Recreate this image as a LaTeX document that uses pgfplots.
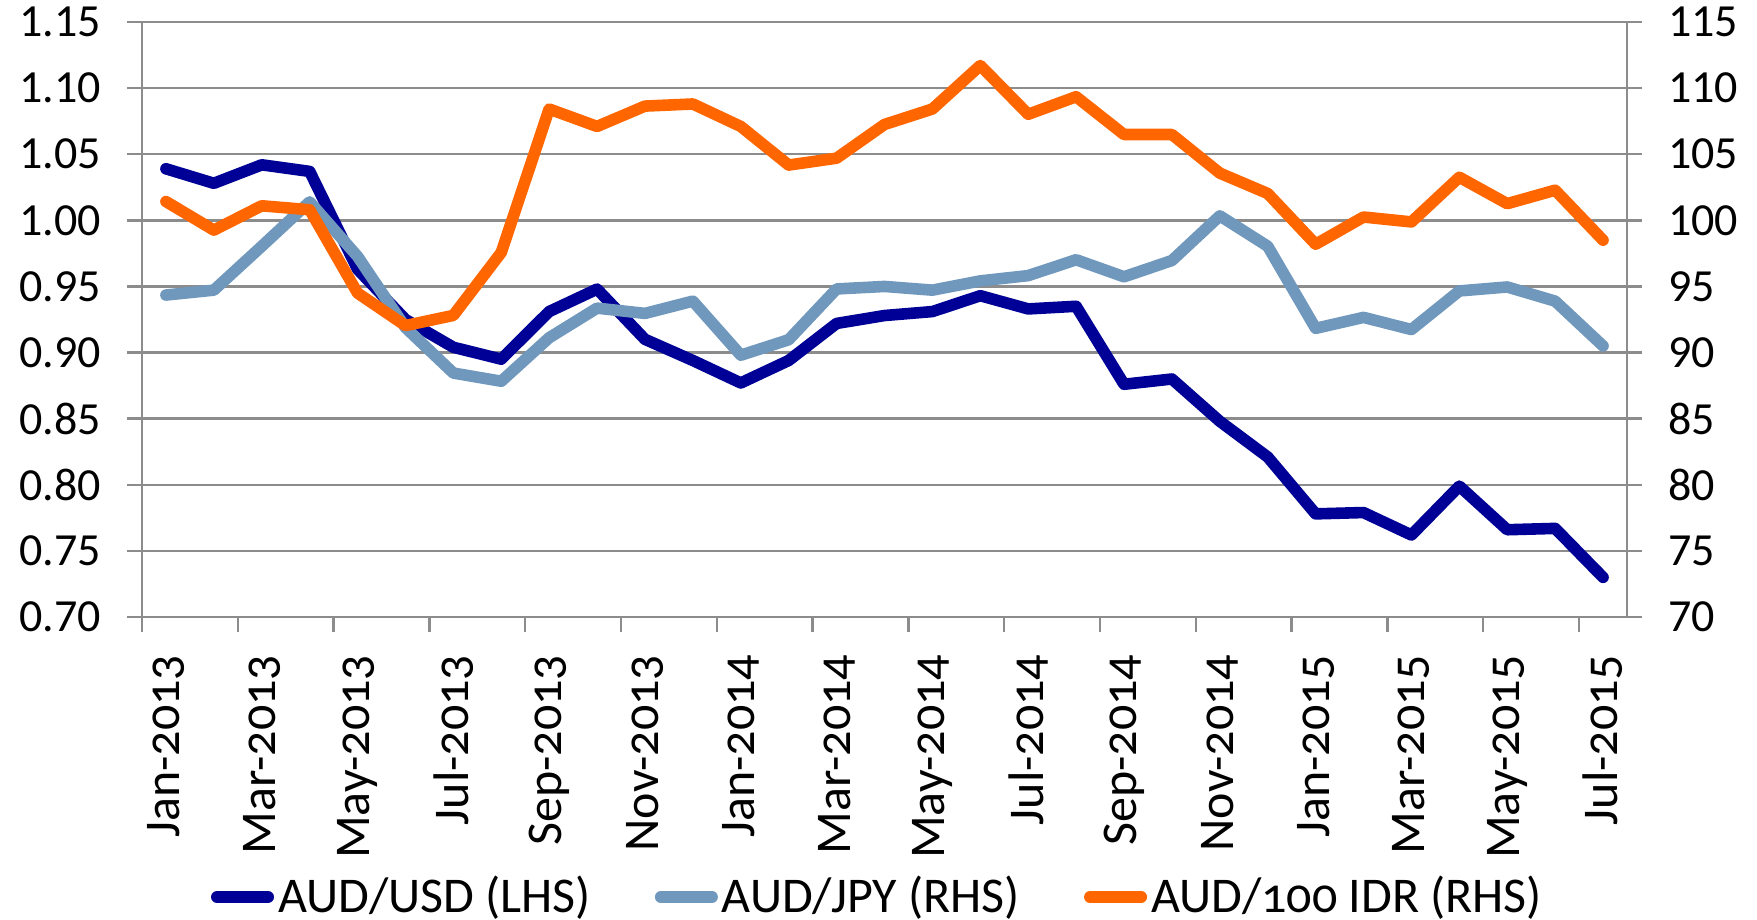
\documentclass[border=0pt]{standalone}
\usepackage{pgfplots}
\usepackage{pgfplotstable}
\pgfplotsset{compat=1.18}
\usepackage{fontspec}
\setmainfont{Carlito}[Numbers=OldStyle]
\newfontfamily\lin{Carlito}[Numbers=Lining]
\definecolor{cUSD}{RGB}{0,0,150}
\definecolor{cJPY}{RGB}{112,152,189}
\definecolor{cIDR}{RGB}{255,102,0}
\definecolor{cgrid}{RGB}{140,140,140}

\pgfplotstableread{
i usd jpy idr
0 1.039 94.35 101.42
1 1.028 94.72 99.26
2 1.042 98.04 101.10
3 1.037 101.40 100.80
4 0.963 97.27 94.50
5 0.925 91.89 92.04
6 0.904 88.45 92.81
7 0.895 87.83 97.57
8 0.931 91.12 108.42
9 0.948 93.36 107.10
10 0.910 92.96 108.64
11 0.894 93.89 108.80
12 0.877 89.80 107.10
13 0.894 90.97 104.18
14 0.922 94.81 104.70
15 0.928 95.00 107.25
16 0.931 94.72 108.42
17 0.943 95.42 111.71
18 0.933 95.82 108.02
19 0.935 97.02 109.35
20 0.876 95.73 106.49
21 0.880 96.96 106.49
22 0.848 100.34 103.57
23 0.821 98.04 102.03
24 0.778 91.83 98.19
25 0.779 92.66 100.25
26 0.762 91.74 99.88
27 0.799 94.66 103.26
28 0.766 94.96 101.26
29 0.767 93.89 102.28
30 0.730 90.50 98.50
}\datatable

\begin{document}
\begin{tikzpicture}
\path[use as bounding box] (-35.5pt,-75.75pt) rectangle (403.75pt,154.25pt);
\begin{axis}[
  at={(0,0)}, anchor=south west,
  scale only axis, width=371.25pt, height=148.75pt,
  xmin=-0.5, xmax=30.5, ymin=0.70, ymax=1.15,
  axis line style={cgrid, line width=0.6pt},
  ytick={0.70,0.75,0.80,0.85,0.90,0.95,1.00,1.05,1.10,1.15},
  ymajorgrids, grid style={cgrid, line width=0.6pt},
  ytick pos=left, xtick pos=left,
  tick align=outside, major tick length=3.75pt, minor tick length=3.75pt,
  tick style={cgrid, line width=0.6pt},
  xtick={0,2,...,30},
  xticklabels={Jan-2013,Mar-2013,May-2013,Jul-2013,Sep-2013,Nov-2013,Jan-2014,Mar-2014,May-2014,Jul-2014,Sep-2014,Nov-2014,Jan-2015,Mar-2015,May-2015,Jul-2015},
  minor xtick={-0.5,1.5,...,29.5},
  every major x tick/.append style={draw=none},
  xticklabel style={rotate=90, anchor=east, inner sep=0pt, font=\fontsize{12.5}{13}\selectfont},
  xticklabel shift=5.5pt,
  yticklabel style={font=\lin\fontsize{11.5}{12}\selectfont},
  yticklabel shift=3pt,
  /pgf/number format/.cd, fixed, fixed zerofill, precision=2, assume math mode=true,
]
\addplot[cUSD, line width=2.9pt, line join=round, line cap=round] table[x=i,y=usd]{\datatable};
\end{axis}
\begin{axis}[
  at={(0,0)}, anchor=south west,
  scale only axis, width=371.25pt, height=148.75pt,
  xmin=-0.5, xmax=30.5, ymin=70, ymax=115,
  axis y line*=right, axis x line=none,
  axis line style={cgrid, line width=0.6pt},
  ytick={70,75,...,115},
  tick align=outside, major tick length=3.75pt,
  tick style={cgrid, line width=0.6pt},
  yticklabel style={font=\lin\fontsize{11.5}{12}\selectfont},
  yticklabel shift=3pt,
  /pgf/number format/assume math mode=true,
  legend style={at={(0.496,-0.4706)}, anchor=center, draw=none, fill=none,
    legend columns=3, /tikz/every even column/.append style={column sep=15pt},
    font=\fontsize{12.5}{13}\selectfont, inner sep=0pt, nodes={inner sep=1pt}},
  legend image code/.code={\draw[#1, line cap=round, line width=3pt] (0pt,0pt) -- (12.75pt,0pt);},
]
\addlegendimage{cUSD, line width=3pt}
\addlegendentry{AUD/USD (LHS)}
\addplot[cJPY, line width=2.9pt, line join=round, line cap=round] table[x=i,y=jpy]{\datatable};
\addlegendentry{AUD/JPY (RHS)}
\addplot[cIDR, line width=2.9pt, line join=round, line cap=round] table[x=i,y=idr]{\datatable};
\addlegendentry{AUD/100 IDR (RHS)}
\end{axis}
\end{tikzpicture}
\end{document}
